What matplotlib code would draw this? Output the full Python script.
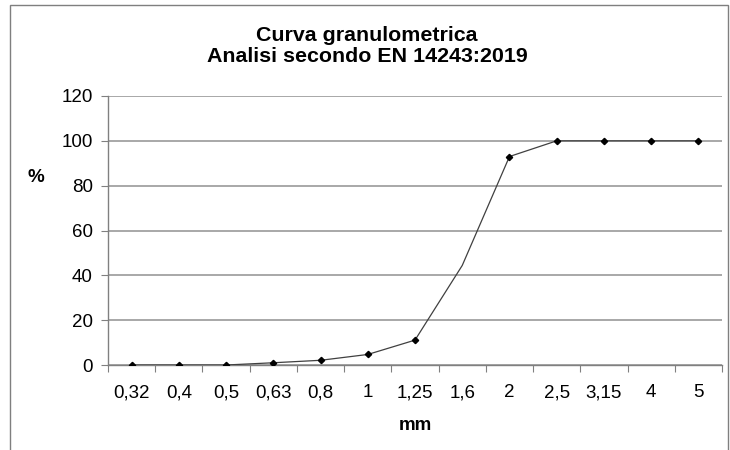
import matplotlib
matplotlib.use("Agg")
import matplotlib.pyplot as plt
from matplotlib.patches import Rectangle

# Sieve sizes (mm) and passing percentages
sieves = ["0,32", "0,4", "0,5", "0,63", "0,8", "1", "1,25", "1,6", "2", "2,5", "3,15", "4", "5"]
passing = [0, 0, 0, 1.0, 2.1, 4.7, 11.1, 44.4, 93.0, 100, 100, 100, 100]
marked = [0, 1, 2, 3, 4, 5, 6, 8, 9, 10, 11, 12]  # no marker shown at 1,6
y_ticks = [0, 20, 40, 60, 80, 100, 120]

plt.rcParams["font.family"] = ["Liberation Sans", "DejaVu Sans"]

fig = plt.figure(figsize=(7.3, 4.5), dpi=100)
fig.patch.set_facecolor("white")

# outer chart border (extends past bottom of image)
fig.add_artist(Rectangle((10 / 730, -0.1), 718 / 730, 1 - 5 / 450 + 0.1,
                         transform=fig.transFigure, fill=False,
                         edgecolor="#7f7f7f", linewidth=1.0))

ax = fig.add_axes([108 / 730, 1 - 365 / 450, 614 / 730, 269 / 450])

x = list(range(len(sieves)))
ax.plot(x, passing, color="#404040", linewidth=0.9, zorder=3)
ax.plot([x[i] for i in marked], [passing[i] for i in marked], linestyle="none",
        marker="D", markersize=3.2, color="black", zorder=4)

ax.set_xlim(-0.5, len(sieves) - 0.5)
ax.set_ylim(0, 120)
ax.set_yticks(y_ticks)
ax.set_yticklabels([str(v) for v in y_ticks], fontsize=13.5)

# ticks at category boundaries, labels at centers
ax.set_xticks([i - 0.5 for i in range(len(sieves) + 1)])
ax.set_xticklabels([])
ax.set_xticks(x, minor=True)
ax.set_xticklabels(sieves, minor=True, fontsize=13.5)
ax.tick_params(axis="x", which="minor", length=0, pad=14)
ax.tick_params(axis="x", which="major", length=5, direction="out", color="#808080")
ax.tick_params(axis="y", length=5, direction="out", color="#808080", pad=6)

ax.grid(axis="y", color="#9a9a9a", linewidth=1.2, zorder=0)
ax.set_axisbelow(True)
for s in ("top", "right"):
    ax.spines[s].set_visible(False)
for s in ("left", "bottom"):
    ax.spines[s].set_color("#808080")
    ax.spines[s].set_linewidth(1.0)

fig.text(367 / 730, 1 - 46 / 450, "Curva granulometrica\nAnalisi secondo EN 14243:2019",
         ha="center", va="center", fontsize=15.4, fontweight="bold", linespacing=1.12)
fig.text(36 / 730, 1 - 177 / 450, "%", ha="center", va="center",
         fontsize=13.5, fontweight="bold")
fig.text(415 / 730, 1 - 425 / 450, "mm", ha="center", va="center",
         fontsize=13.5, fontweight="bold")

fig.savefig("out.png", dpi=100)
